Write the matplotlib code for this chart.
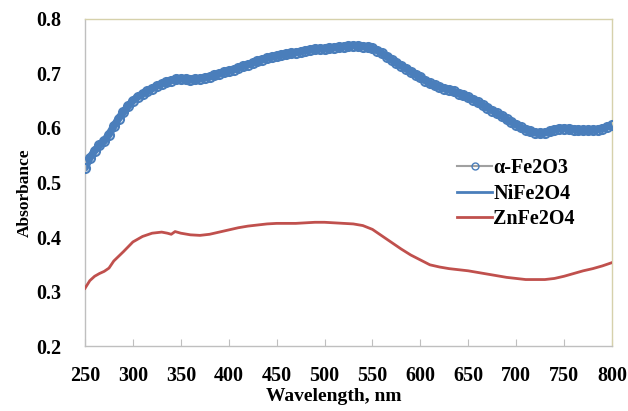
import numpy as np
import matplotlib
matplotlib.use("Agg")
from matplotlib import pyplot as plt
from matplotlib.lines import Line2D
from matplotlib.transforms import IdentityTransform

plt.rcParams['font.family'] = ['Liberation Serif', 'DejaVu Serif']
plt.rcParams['font.weight'] = 'bold'

# Wavelength grids (nm)
wl_fe2o3 = np.arange(250, 801, 5)
wl_znfe2o4 = [250, 255, 260, 265, 270, 275, 280, 290, 300, 310, 320, 330, 336, 340, 344,
              350, 360, 370, 380, 390, 400, 410, 420, 430, 440, 450, 460, 470, 480, 490,
              500, 510, 520, 530, 540, 550, 560, 570, 580, 590, 600, 610, 620, 630, 640,
              650, 660, 670, 680, 690, 700, 710, 720, 730, 740, 750, 760, 770, 780, 790, 800]

# Absorbance spectra
abs_fe2o3 = [0.527, 0.545, 0.558, 0.568, 0.576, 0.588, 0.603, 0.617, 0.629, 0.640,
             0.650, 0.657, 0.662, 0.667, 0.672, 0.677, 0.681, 0.684, 0.687, 0.689,
             0.690, 0.689, 0.688, 0.689, 0.690, 0.692, 0.694, 0.697, 0.699, 0.702,
             0.704, 0.707, 0.710, 0.713, 0.716, 0.719, 0.722, 0.725, 0.728, 0.730,
             0.732, 0.734, 0.735, 0.737, 0.738, 0.740, 0.742, 0.743, 0.744, 0.745,
             0.745, 0.746, 0.747, 0.748, 0.749, 0.750, 0.751, 0.750, 0.749, 0.748,
             0.746, 0.742, 0.737, 0.731, 0.725, 0.719, 0.714, 0.709, 0.703, 0.698,
             0.693, 0.687, 0.682, 0.678, 0.675, 0.672, 0.670, 0.667, 0.663, 0.660,
             0.656, 0.652, 0.647, 0.642, 0.637, 0.632, 0.627, 0.622, 0.616, 0.611,
             0.606, 0.601, 0.597, 0.594, 0.591, 0.590, 0.591, 0.594, 0.597, 0.599,
             0.599, 0.598, 0.597, 0.597, 0.596, 0.596, 0.596, 0.597, 0.599, 0.602,
             0.605]
abs_znfe2o4 = [0.306, 0.320, 0.328, 0.333, 0.337, 0.343, 0.356, 0.373, 0.391, 0.401,
               0.407, 0.409, 0.407, 0.405, 0.410, 0.407, 0.404, 0.403, 0.405, 0.409,
               0.413, 0.417, 0.420, 0.422, 0.424, 0.425, 0.425, 0.425, 0.426, 0.427,
               0.427, 0.426, 0.425, 0.424, 0.421, 0.414, 0.402, 0.390, 0.378, 0.367,
               0.358, 0.349, 0.345, 0.342, 0.340, 0.338, 0.335, 0.332, 0.329, 0.326,
               0.324, 0.322, 0.322, 0.322, 0.324, 0.328, 0.333, 0.338, 0.342, 0.347,
               0.353]

BLUE = '#4a7ebb'
RED = '#c0504d'
GREY = '#a0a0a0'

fig = plt.figure(figsize=(6.28, 4.11), dpi=100)
ax = fig.add_axes([0.1354, 0.158, 0.839, 0.796])

# dense hollow markers over a thick trace give the banded look
ax.plot(wl_fe2o3, abs_fe2o3, '-', color=BLUE, lw=5.5, zorder=2,
        solid_capstyle='round')
ax.plot(wl_fe2o3, abs_fe2o3, ls='none', marker='o', ms=6.5,
        mfc='none', mec=BLUE, mew=1.5, zorder=3)
ax.plot(wl_znfe2o4, abs_znfe2o4, '-', color=RED, lw=2, zorder=3)

ax.set_xlim(250, 800)
ax.set_ylim(0.2, 0.8)
ax.set_xticks(np.arange(250, 801, 50))
ax.set_yticks(np.arange(0.2, 0.81, 0.1))
ax.set_yticklabels(['%.1f' % v for v in np.arange(0.2, 0.81, 0.1)])

for side in ('top', 'right'):
    ax.spines[side].set_color('#d6d1ab')
for side in ('left', 'bottom'):
    ax.spines[side].set_color('#bfbfbf')
for s in ax.spines.values():
    s.set_linewidth(1)

ax.tick_params(axis='x', direction='in', length=5, color='#bfbfbf', pad=14,
               labelsize=14.5)
ax.tick_params(axis='y', length=0, pad=17, labelsize=14.5)
for lab in ax.get_xticklabels() + ax.get_yticklabels():
    lab.set_fontweight('bold')

ax.set_xlabel('Wavelength, nm', fontsize=14, fontweight='bold')
ax.set_ylabel('Absorbance', fontsize=12.5, fontweight='bold')
ax.xaxis.set_label_coords(0.472, -0.128)
ax.yaxis.set_label_coords(-0.1, 0.47)

handles = [
    Line2D([], [], color=GREY, lw=1.5, marker='o', ms=5, mfc='none', mec=BLUE),
    Line2D([], [], color=BLUE, lw=2),
    Line2D([], [], color=RED, lw=2),
]
ax.legend(handles, ['α-Fe2O3', 'NiFe2O4', 'ZnFe2O4'], loc='upper left',
          bbox_to_anchor=(457, 411 - 158), bbox_transform=IdentityTransform(),
          borderpad=0, borderaxespad=0, frameon=False, handlelength=1.75,
          handletextpad=0.05, labelspacing=0.28,
          prop={'size': 14.5, 'weight': 'bold'})

fig.savefig('out.png', dpi=100)
